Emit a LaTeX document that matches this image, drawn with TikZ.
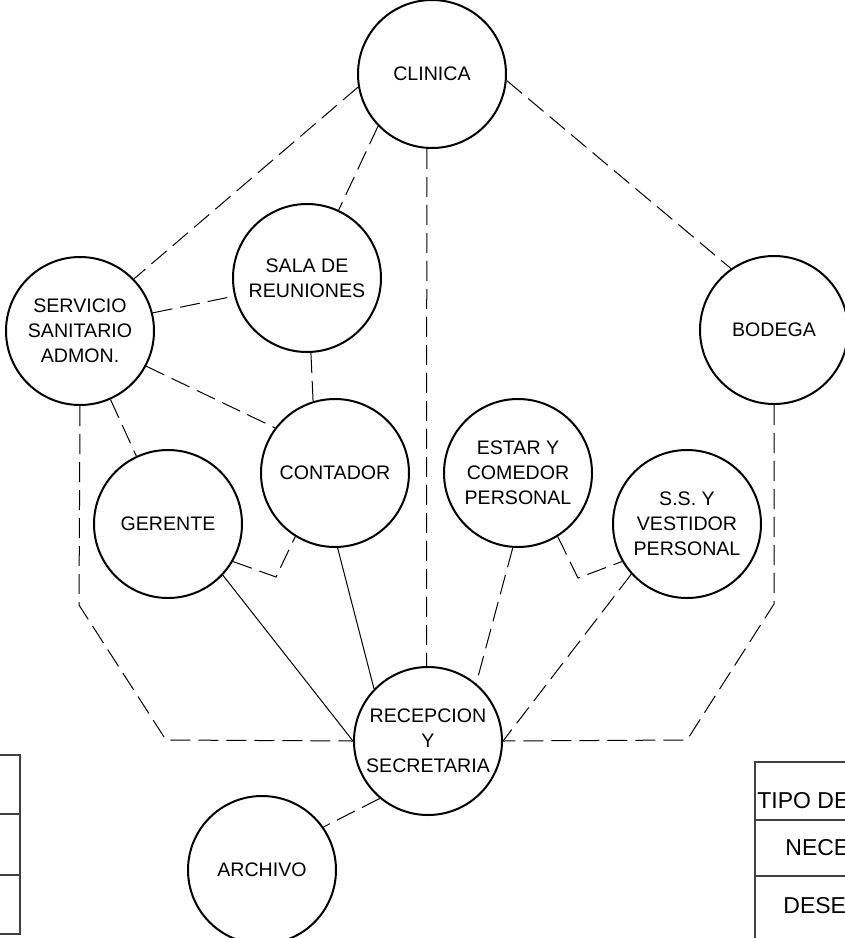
\documentclass[tikz,border=0pt]{standalone}
\usepackage{fontspec}
\setmainfont{Liberation Sans}
\usetikzlibrary{positioning,calc}

\begin{document}
\begin{tikzpicture}[x=0.5pt, y=-0.5pt,
        area/.style={draw, circle, line width=1pt, minimum size=74pt, inner sep=0pt, align=center, font=\fontsize{9.8}{12.5}\selectfont},
        deseable/.style={line width=0.5pt, dash pattern=on 10pt off 4pt},
        necesaria/.style={line width=0.5pt},
        tabla/.style={line width=0.6pt, draw=black!75},
        celda/.style={anchor=west, inner sep=0pt, font=\fontsize{11.5}{14}\selectfont}]
        \useasboundingbox (0,0) rectangle (845,938);

        % Areas
        \node[area] (clinica) at (432,74) {CLINICA};
        \node[area] (sala) at (307,278) {SALA DE\\REUNIONES};
        \node[area] (servicio) at (80,331) {SERVICIO\\SANITARIO\\ADMON.};
        \node[area] (bodega) at (774,330) {BODEGA};
        \node[area] (contador) at (335,473) {CONTADOR};
        \node[area] (gerente) at (168,524) {GERENTE};
        \node[area] (estar) at (518,473) {ESTAR Y\\COMEDOR\\PERSONAL};
        \node[area] (vestidor) at (687,524) {S.S. Y\\VESTIDOR\\PERSONAL};
        \node[area] (recepcion) at (428,741) {RECEPCION\\Y\\SECRETARIA};
        \node[area] (archivo) at (262,870) {ARCHIVO};

        % Bends
        \coordinate (gc) at (276,577);
        \coordinate (ev) at (578,578);
        \coordinate (sr1) at (79,605);
        \coordinate (sr2) at (166,740);
        \coordinate (br1) at (774,604);
        \coordinate (br2) at (687,740);

        % Relaciones deseables
        \draw[deseable] (clinica.190) -- (servicio.44);
        \draw[deseable] (clinica.224) -- (sala.65);
        \draw[deseable] (clinica.266) -- (recepcion.91);
        \draw[deseable] (clinica.355) -- (bodega.125);
        \draw[deseable] (servicio.14) -- (sala.194);
        \draw[deseable] (servicio.332) -- (contador.143);
        \draw[deseable] (servicio.294) -- (gerente.115);
        \draw[deseable] (sala.273) -- (contador.107);
        \draw[deseable] (gerente.330) -- (gc) -- (contador.238);
        \draw[deseable] (estar.266) -- (recepcion.50);
        \draw[deseable] (estar.302) -- (ev) -- (vestidor.210);
        \draw[deseable] (vestidor.222) -- (recepcion.0);
        \draw[deseable] (servicio.south) -- (sr1) -- (sr2) -- (recepcion.west);
        \draw[deseable] (bodega.south) -- (br1) -- (br2) -- (recepcion.east);
        \draw[deseable] (recepcion.230) -- (archivo.35);

        % Relaciones necesarias
        \draw[necesaria] (gerente.317) -- (recepcion.180);
        \draw[necesaria] (contador.272) -- (recepcion.136);

        % Tabla izquierda
        \draw[tabla] (0,755) -| (20,934) -- (0,934);
        \draw[tabla] (0,814) -- (20,814);
        \draw[tabla] (0,875) -- (20,875);

        % Tabla derecha
        \draw[tabla] (845,762) -- (755,762) -- (755,938);
        \draw[tabla] (755,820) -- (845,820);
        \draw[tabla] (755,876) -- (845,876);
        \node[celda] (tipo) at (757,801) {TIPO DE};
        \node[celda] (nece) at (785,848) {NECE};
        \node[celda] (dese) at (783,906) {DESE};
    \end{tikzpicture}
\end{document}
